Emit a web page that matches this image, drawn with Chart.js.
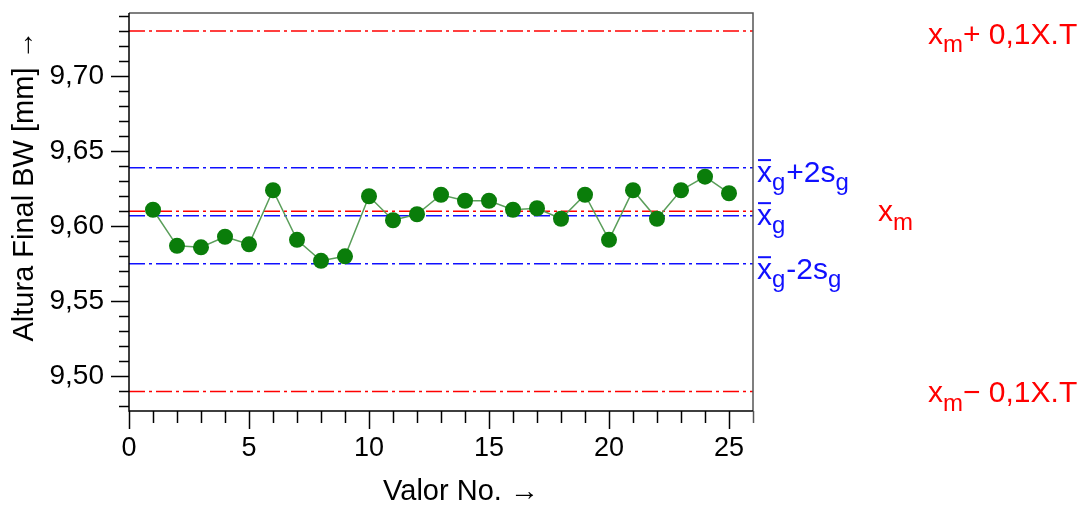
<!DOCTYPE html>
<html>
<head>
<meta charset="utf-8">
<script src="https://cdn.jsdelivr.net/npm/chart.js@4"></script>
<style>
  body { margin: 0; background: #fff; }
  #wrap { width: 1088px; height: 505px; }
</style>
</head>
<body>
<div id="wrap"><canvas id="chart" width="1088" height="505"></canvas></div>
<script>
// values
const valorNo = [1, 2, 3, 4, 5, 6, 7, 8, 9, 10, 11, 12, 13, 14, 15, 16, 17, 18, 19, 20, 21, 22, 23, 24, 25];
const alturaBW = [9.611, 9.587, 9.586, 9.593, 9.588, 9.624, 9.591, 9.577, 9.580, 9.620,
                  9.604, 9.608, 9.621, 9.617, 9.617, 9.611, 9.612, 9.605, 9.621, 9.591,
                  9.624, 9.605, 9.624, 9.633, 9.622];

// reference lines
const xm = 9.61;
const tol = 0.12;           // 0,1 x T
const xgMean = 9.607;
const xgUpper = 9.639;      // xg + 2sg
const xgLower = 9.575;      // xg - 2sg

const xRange = [0, 26];
const yRange = [9.477, 9.742];

const FONT = "'Liberation Sans', Arial, sans-serif";
const RED = "#ff0000";
const BLUE = "#1010ff";

function hLine(label, value, color) {
  return {
    label: label,
    data: [{ x: xRange[0], y: value }, { x: xRange[1], y: value }],
    borderColor: color,
    borderWidth: 1.4,
    borderDash: [16, 4, 3, 4],
    pointRadius: 0,
    order: 2
  };
}

// ticks, frame, axis titles and the labels at the right
const decor = {
  id: "decor",
  afterDraw(chart) {
    const ctx = chart.ctx;
    const a = chart.chartArea;
    const xs = chart.scales.x, ys = chart.scales.y;
    ctx.save();

    // frame
    ctx.lineWidth = 1.5;
    ctx.strokeStyle = "#555";
    ctx.beginPath();
    ctx.moveTo(a.left, a.top); ctx.lineTo(a.right, a.top); ctx.lineTo(a.right, a.bottom);
    ctx.stroke();
    ctx.strokeStyle = "#000";
    ctx.beginPath();
    ctx.moveTo(a.left, a.top); ctx.lineTo(a.left, a.bottom); ctx.lineTo(a.right, a.bottom);
    ctx.stroke();

    // y ticks
    ctx.lineWidth = 1.5;
    ys.ticks.forEach(t => {
      const p = Math.round(ys.getPixelForValue(t.value)) + 0.5;
      const major = Math.round(t.value * 100) % 5 === 0;
      ctx.beginPath();
      ctx.moveTo(a.left - (major ? 18 : 10), p);
      ctx.lineTo(a.left, p);
      ctx.stroke();
    });
    // x ticks
    xs.ticks.forEach(t => {
      const p = Math.round(xs.getPixelForValue(t.value)) + 0.5;
      const major = t.value % 5 === 0;
      ctx.strokeStyle = t.value === xRange[1] ? "#555" : "#000";
      ctx.beginPath();
      ctx.moveTo(p, a.bottom);
      ctx.lineTo(p, a.bottom + (major ? 18 : 12));
      ctx.stroke();
    });

    // axis titles
    ctx.fillStyle = "#000";
    ctx.font = "29px " + FONT;
    ctx.textAlign = "center";
    ctx.textBaseline = "middle";
    ctx.fillText("Valor No. \u2192", 461, 492);
    ctx.save();
    ctx.translate(25, 186);
    ctx.rotate(-Math.PI / 2);
    ctx.fillText("Altura Final BW [mm] \u2192", 0, 0);
    ctx.restore();

    // labels at the right of the plot
    const rich = (x, y, parts, color, size, gap) => {
      ctx.fillStyle = color;
      ctx.strokeStyle = color;
      ctx.textAlign = "left";
      ctx.textBaseline = "alphabetic";
      parts.forEach(p => {
        const s = p.sub ? size * 0.8 : size;
        ctx.font = s + "px " + FONT;
        const w = ctx.measureText(p.t).width;
        const yy = p.sub ? y + size * 0.28 : y;
        ctx.fillText(p.t, x, yy);
        if (p.over) {
          ctx.lineWidth = 2;
          ctx.beginPath();
          ctx.moveTo(x + 1, y - size * 0.72);
          ctx.lineTo(x + w - 1, y - size * 0.72);
          ctx.stroke();
        }
        x += w + (p.sub ? gap : 0);
      });
    };
    const py = v => ys.getPixelForValue(v);
    const S = 30;
    rich(757, py(xgUpper) + 14, [{ t: "x", over: true }, { t: "g", sub: true }, { t: "+2s" }, { t: "g", sub: true }], BLUE, S, 1);
    rich(757, py(xgMean) + 9, [{ t: "x", over: true }, { t: "g", sub: true }], BLUE, S, 1);
    rich(757, py(xgLower) + 15, [{ t: "x", over: true }, { t: "g", sub: true }, { t: "-2s" }, { t: "g", sub: true }], BLUE, S, 1);
    rich(878, py(xm) + 10, [{ t: "x" }, { t: "m", sub: true }], RED, S, 0);
    rich(928, py(xm + tol) + 13, [{ t: "x" }, { t: "m", sub: true }, { t: "+ 0,1X.T" }], RED, S, 0);
    rich(928, py(xm - tol) + 11, [{ t: "x" }, { t: "m", sub: true }, { t: "\u2212 0,1X.T" }], RED, S, 0);

    ctx.restore();
  }
};

new Chart(document.getElementById("chart"), {
  type: "line",
  data: {
    datasets: [
      {
        label: "Altura Final BW",
        data: valorNo.map((v, i) => ({ x: v, y: alturaBW[i] })),
        borderColor: "#5a9e5a",
        borderWidth: 1.5,
        pointRadius: 8,
        pointBackgroundColor: "#0a7d0a",
        pointBorderColor: "#0a7d0a",
        pointBorderWidth: 0,
        order: 1
      },
      hLine("xm + 0,1X.T", xm + tol, RED),
      hLine("xm - 0,1X.T", xm - tol, RED),
      hLine("xm", xm, RED),
      hLine("xg + 2sg", xgUpper, BLUE),
      hLine("xg", xgMean, BLUE),
      hLine("xg - 2sg", xgLower, BLUE)
    ]
  },
  options: {
    responsive: false,
    animation: false,
    layout: { padding: { top: 13, right: 335, left: 0, bottom: 0 } },
    plugins: { legend: { display: false }, tooltip: { enabled: false } },
    scales: {
      x: {
        type: "linear",
        min: xRange[0],
        max: xRange[1],
        grid: { display: false, drawTicks: false },
        border: { display: false },
        ticks: {
          stepSize: 1,
          autoSkip: false,
          maxRotation: 0,
          padding: 21,
          color: "#000",
          font: { family: FONT, size: 27 },
          callback: v => (v % 5 === 0 && v < xRange[1]) ? String(v) : ""
        },
        afterFit: s => { s.height = 94; s.paddingLeft = 0; s.paddingRight = 0; }
      },
      y: {
        min: yRange[0],
        max: yRange[1],
        grid: { display: false, drawTicks: false },
        border: { display: false },
        ticks: {
          stepSize: 0.01,
          includeBounds: false,
          autoSkip: false,
          padding: 25,
          color: "#000",
          font: { family: FONT, size: 28 },
          callback: v => Math.round(v * 100) % 5 === 0 ? v.toFixed(2).replace(".", ",") : ""
        },
        afterFit: s => { s.width = 129; s.paddingTop = 0; s.paddingBottom = 0; }
      }
    }
  },
  plugins: [decor]
});
</script>
</body>
</html>
